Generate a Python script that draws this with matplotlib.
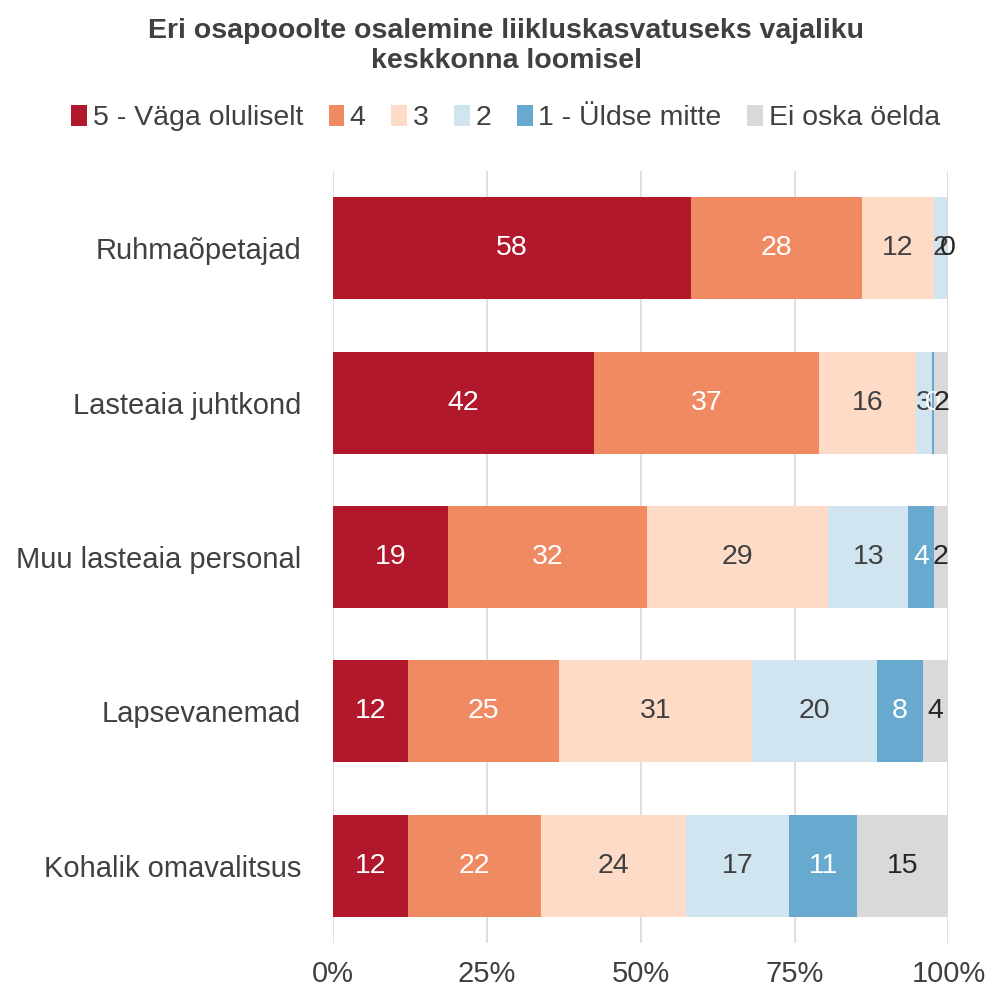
import numpy as np
import matplotlib
matplotlib.use("Agg")
import matplotlib.pyplot as plt
from matplotlib.patches import Patch

plt.rcParams['font.family'] = ['Liberation Sans', 'DejaVu Sans']

# andmed (loetud jooniselt, protsendid)
groups = ["Ruhmaõpetajad", "Lasteaia juhtkond", "Muu lasteaia personal",
          "Lapsevanemad", "Kohalik omavalitsus"]
series = ["5 - Väga oluliselt", "4", "3", "2", "1 - Üldse mitte", "Ei oska öelda"]
v5 = [58.2, 42.4, 18.6, 12.2, 12.2]
v4 = [27.8, 36.6, 32.4, 24.6, 21.6]
v3 = [11.6, 15.7, 29.4, 31.4, 23.7]
v2 = [2.1, 2.7, 13.0, 20.3, 16.7]
v1 = [0.0, 0.3, 4.1, 7.6, 11.1]
v0 = [0.3, 2.3, 2.4, 4.1, 14.8]

colors = ["#B2182B", "#EF8A62", "#FDDBC7", "#D1E5F0", "#67A9CF", "#D9D9D9"]
txtcol = ["white", "white", "#404040", "#404040", "white", "#262626"]

data = np.array([v5, v4, v3, v2, v1, v0], dtype=float)
data = data / data.sum(axis=0) * 100

fig = plt.figure(figsize=(9.91, 9.91), dpi=100)
ax = fig.add_axes([0.336, 0.0484, 0.621, 0.779])

fs = 20.5
y = np.arange(len(groups))
left = np.zeros(len(groups))
for i in range(len(series)):
    ax.barh(y, data[i], left=left, height=0.66, color=colors[i], zorder=2)
    for j in range(len(groups)):
        raw = [v5, v4, v3, v2, v1, v0][i][j]
        if raw == 0:
            continue
        ax.text(left[j] + data[i][j] / 2, y[j], str(int(round(raw))),
                ha="center", va="center", fontsize=fs, color=txtcol[i], zorder=3)
    left += data[i]

ax.set_xlim(0, 100)
ax.set_ylim(len(groups) - 0.5, -0.5)
ax.set_yticks(y)
ax.set_yticklabels(groups, fontsize=21, color="#404040")
ax.set_xticks([0, 25, 50, 75, 100])
ax.set_xticklabels(["0%", "25%", "50%", "75%", "100%"], fontsize=21, color="#404040")
ax.tick_params(length=0)
ax.tick_params(axis="x", pad=12)
ax.tick_params(axis="y", pad=23)
ax.grid(axis="x", color="#D9D9D9", linewidth=1.2, zorder=0)
for s in ax.spines.values():
    s.set_visible(False)

fig.text(0.511, 0.982, "Eri osapooolte osalemine liikluskasvatuseks vajaliku\nkeskkonna loomisel",
         ha="center", va="top", fontsize=20.5, fontweight="bold", color="#404040",
         linespacing=1.2)

handles = [Patch(facecolor=c) for c in colors]
fig.legend(handles, series, loc="center", bbox_to_anchor=(0.51, 0.881), ncol=6,
           frameon=False, fontsize=fs, handlelength=0.55, handleheight=0.8,
           handletextpad=0.2, columnspacing=0.9, labelcolor="#404040")

fig.savefig("out.png", dpi=100)
